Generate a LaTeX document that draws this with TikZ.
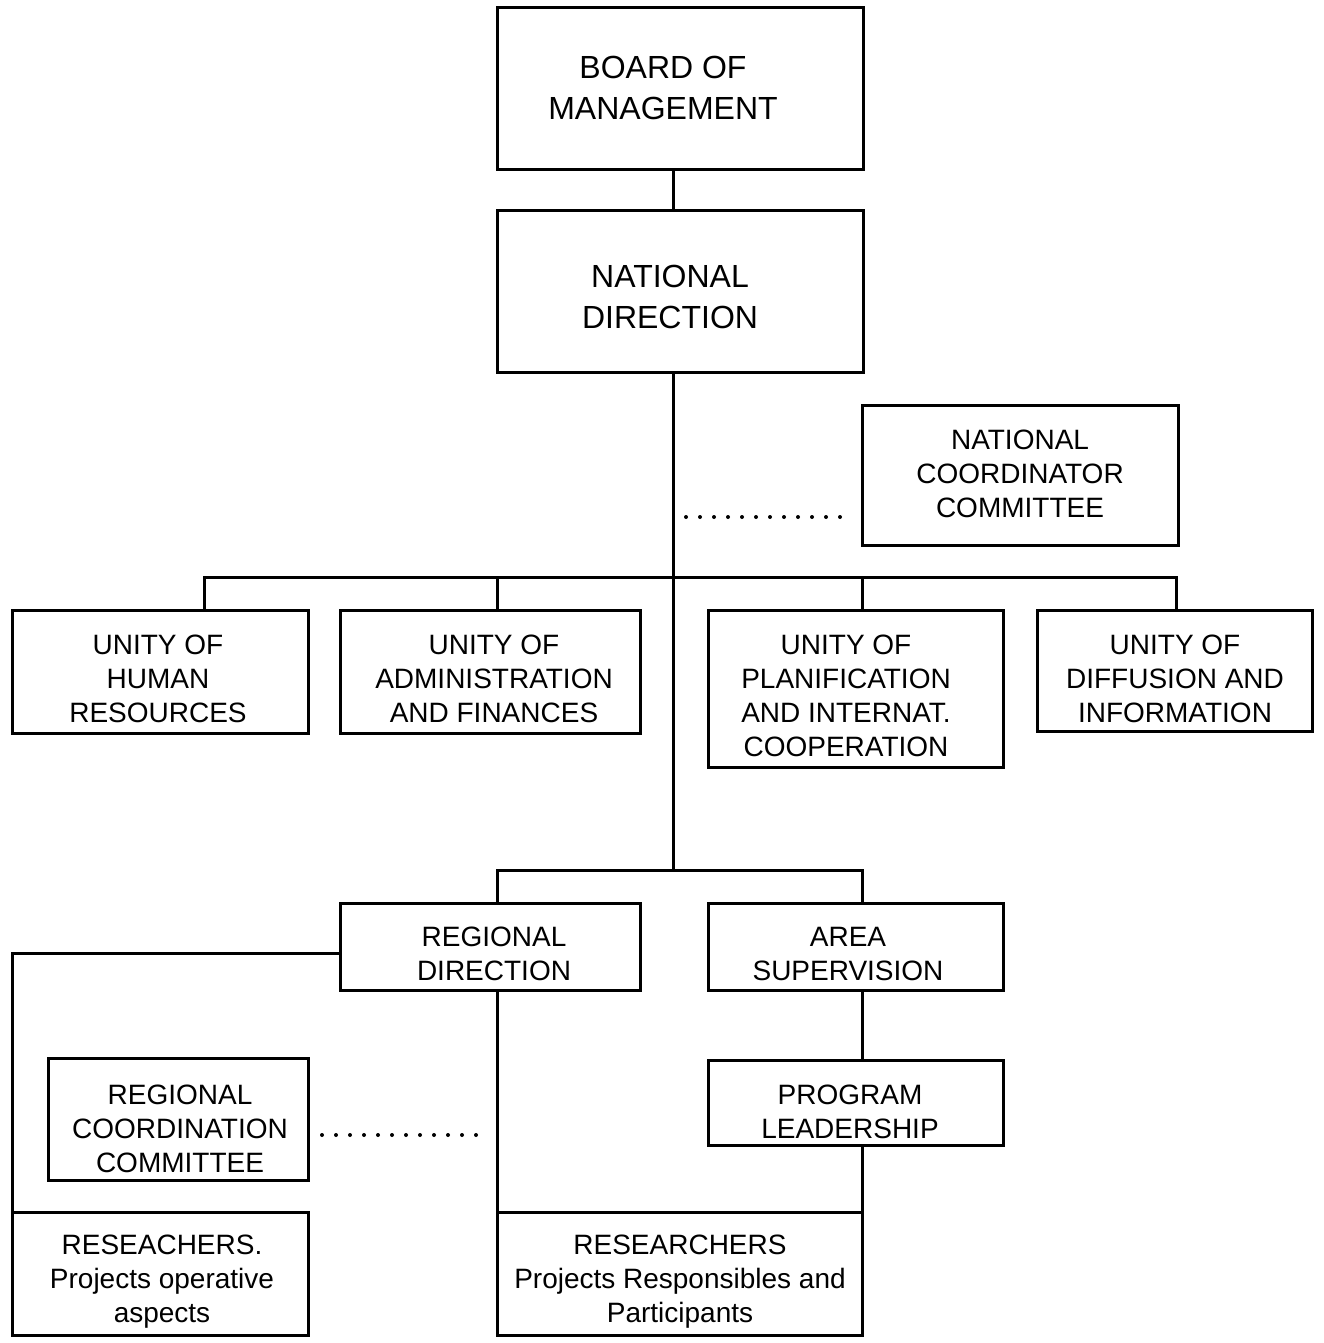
\documentclass[tikz,border=0pt]{standalone}
\usepackage{fontspec}
\setmainfont{Liberation Sans}
\usetikzlibrary{fit}
\tikzset{
  box/.style={draw=black, line width=3pt, inner sep=0pt, outer sep=0pt},
  lbl/.style={align=center, inner sep=0pt, font=\fontsize{28}{34}\selectfont},
  biglbl/.style={align=center, inner sep=0pt, font=\fontsize{32}{41}\selectfont},
  conn/.style={draw=black, line width=3pt, line join=miter},
  dotline/.style={draw=black, line width=4pt, line cap=round, dash pattern=on 0pt off 14pt},
}
\begin{document}
\begin{tikzpicture}[x=1pt,y=-1pt]
\useasboundingbox[fill=white] (0,0) rectangle (1324,1343);

% boxes
\node[box, fit={(497,8) (863,170)}] (board) {};
\node[box, fit={(497,210) (863,372)}] (national) {};
\node[box, fit={(862,405) (1178,545)}] (ncc) {};
\node[box, fit={(12,610) (308,733)}] (hr) {};
\node[box, fit={(340,610) (640,733)}] (admin) {};
\node[box, fit={(708,610) (1003,767)}] (planif) {};
\node[box, fit={(1037,610) (1312,731)}] (diff) {};
\node[box, fit={(340,903) (640,990)}] (regional) {};
\node[box, fit={(708,903) (1003,990)}] (area) {};
\node[box, fit={(48,1058) (308,1180)}] (rcc) {};
\node[box, fit={(708,1060) (1003,1145)}] (program) {};
\node[box, fit={(12,1212) (308,1335)}] (res1) {};
\node[box, fit={(497,1212) (862,1335)}] (res2) {};

% texts
\node[biglbl] (boardT) at (663,88) {BOARD OF\\MANAGEMENT};
\node[biglbl] (nationalT) at (670,297) {NATIONAL\\DIRECTION};
\node[lbl] (nccT) at (1020,474) {NATIONAL\\COORDINATOR\\COMMITTEE};
\node[lbl] (hrT) at (158,679) {UNITY OF\\HUMAN\\RESOURCES};
\node[lbl] (adminT) at (494,679) {UNITY OF\\ADMINISTRATION\\AND FINANCES};
\node[lbl] (planifT) at (846,696) {UNITY OF\\PLANIFICATION\\AND INTERNAT.\\COOPERATION};
\node[lbl] (diffT) at (1175,679) {UNITY OF\\DIFFUSION AND\\INFORMATION};
\node[lbl] (regionalT) at (494,954) {REGIONAL\\DIRECTION};
\node[lbl] (areaT) at (848,954) {AREA\\SUPERVISION};
\node[lbl] (rccT) at (180,1129) {REGIONAL\\COORDINATION\\COMMITTEE};
\node[lbl] (programT) at (850,1112) {PROGRAM\\LEADERSHIP};
\node[lbl] (res1T) at (162,1282) {RESEACHERS.\\Projects operative\\aspects};
\node[lbl] (res2T) at (680,1282) {RESEARCHERS\\Projects Responsibles and\\Participants};

% coordinates
\coordinate (trunk) at (673,0);
\coordinate (b1l) at (204,577);
\coordinate (b1a) at (497,577);
\coordinate (b1p) at (862,577);
\coordinate (b1r) at (1176,577);
\coordinate (j2) at (673,870);
\coordinate (r2) at (497,870);
\coordinate (a2) at (862,870);
\coordinate (rw) at (340,953);
\coordinate (lc) at (12,953);
\coordinate (nd1) at (686,517);
\coordinate (nd2) at (842,517);
\coordinate (rd1) at (322,1135);
\coordinate (rd2) at (480,1135);

% connectors
\draw[conn] (board.south -| trunk) -- (national.north -| trunk);
\draw[conn] (national.south -| trunk) -- (j2);
\draw[conn] (hr.north -| b1l) -- (b1l) -- (b1r) -- (diff.north -| b1r);
\draw[conn] (b1a) -- (admin.north -| b1a);
\draw[conn] (b1p) -- (planif.north -| b1p);
\draw[conn] (regional.north -| r2) -- (r2) -- (a2) -- (area.north -| a2);
\draw[conn] (rw) -- (lc) -- (res1.north west);
\draw[conn] (regional.south -| r2) -- (res2.north west);
\draw[conn] (area.south -| a2) -- (program.north -| a2);
\draw[conn] (program.south -| a2) -- (res2.north east);
\draw[dotline] (nd1) -- (nd2);
\draw[dotline] (rd1) -- (rd2);
\end{tikzpicture}
\end{document}
